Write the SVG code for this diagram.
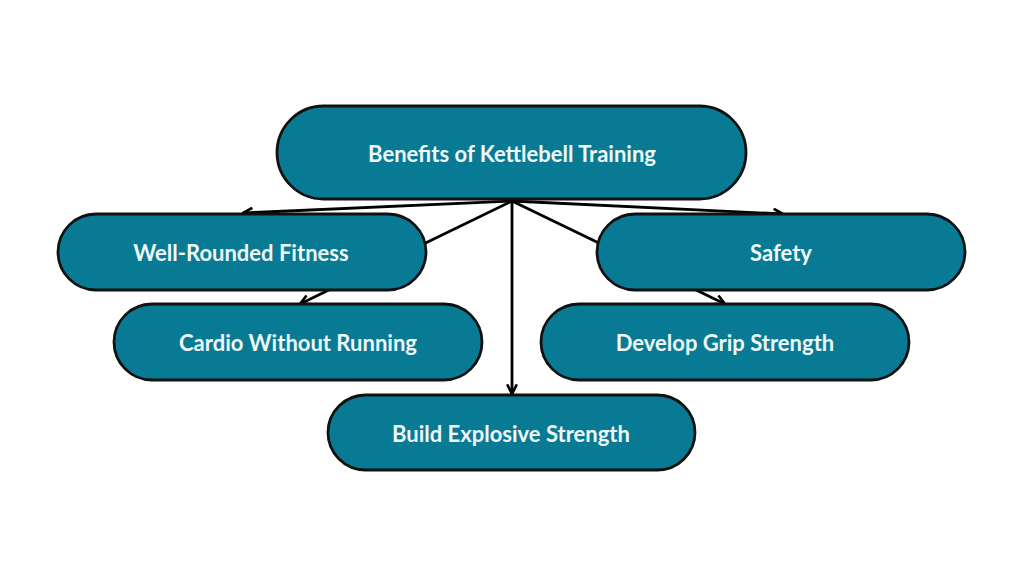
<svg xmlns="http://www.w3.org/2000/svg" width="1024" height="576" viewBox="0 0 1024 576">
<defs>
<marker id="ah" viewBox="0 0 10 10" refX="9" refY="5" markerWidth="12" markerHeight="12" orient="auto" markerUnits="userSpaceOnUse">
<path d="M1,1 L9,5 L1,9" fill="none" stroke="#000" stroke-width="2.2"/>
</marker>
<style>
.n{fill:#097a93;stroke:#111;stroke-width:2.8}
.t{font-family:Lato,"Liberation Sans",sans-serif;font-weight:bold;font-size:22px;fill:#eef8f8;text-anchor:middle;dominant-baseline:central}
.c{stroke:#000;stroke-width:2.8;fill:none}
</style>
</defs>
<rect width="1024" height="576" fill="#fff"/>
<g id="connectors">
<line class="c" x1="512" y1="201" x2="243" y2="213" marker-end="url(#ah)"/>
<line class="c" x1="512" y1="201" x2="783" y2="214" marker-end="url(#ah)"/>
<line class="c" x1="512" y1="201" x2="300" y2="304" marker-end="url(#ah)"/>
<line class="c" x1="512" y1="201" x2="725" y2="304" marker-end="url(#ah)"/>
<line class="c" x1="512" y1="201" x2="512" y2="394" marker-end="url(#ah)"/>
</g>
<g id="root"><rect class="n" x="277" y="106" width="469" height="93" rx="46.5"/><text class="t" x="512" y="153">Benefits of Kettlebell Training</text></g>
<g id="well"><rect class="n" x="58" y="214" width="368" height="76" rx="38"/><text class="t" x="241" y="252">Well-Rounded Fitness</text></g>
<g id="safety"><rect class="n" x="597" y="214" width="368" height="76" rx="38"/><text class="t" x="781" y="252">Safety</text></g>
<g id="cardio"><rect class="n" x="114" y="304" width="368" height="76" rx="38"/><text class="t" x="298" y="342">Cardio Without Running</text></g>
<g id="grip"><rect class="n" x="541" y="304" width="368" height="76" rx="38"/><text class="t" x="725" y="342">Develop Grip Strength</text></g>
<g id="build"><rect class="n" x="328" y="395" width="367" height="75" rx="37.5"/><text class="t" x="511" y="433">Build Explosive Strength</text></g>
</svg>
